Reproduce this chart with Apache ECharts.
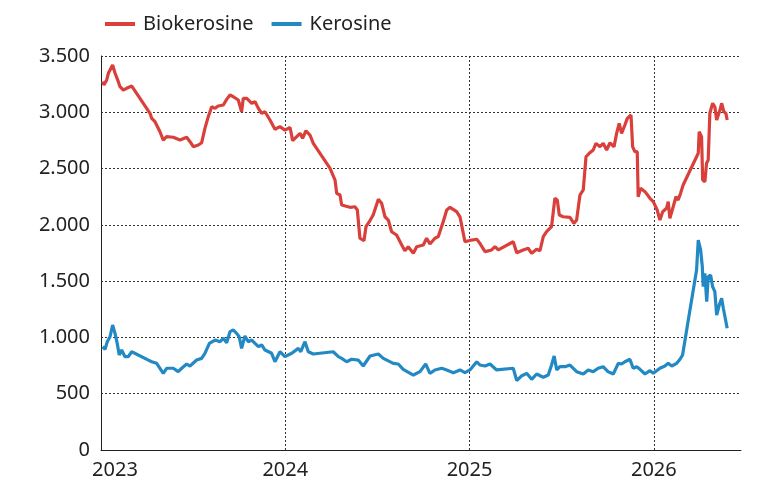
<!DOCTYPE html>
<html>
<head>
<meta charset="utf-8">
<script src="https://cdn.jsdelivr.net/npm/echarts@6/dist/echarts.min.js"></script>
<style>
html,body{margin:0;padding:0;background:#fff;}
#c{width:761px;height:485px;}
</style>
</head>
<body>
<div id="c"></div>
<script>
// time expressed in decimal years
const bioYear = [2023.009,2023.016,2023.031,2023.040,2023.063,2023.076,2023.094,2023.103,2023.121,2023.139,2023.167,2023.266,2023.275,2023.293,2023.320,2023.338,2023.356,2023.392,2023.429,2023.465,2023.483,2023.501,2023.528,2023.546,2023.564,2023.582,2023.601,2023.619,2023.636,2023.664,2023.682,2023.700,2023.718,2023.745,2023.763,2023.772,2023.791,2023.818,2023.836,2023.854,2023.872,2023.890,2023.917,2023.944,2023.971,2023.998,2024.026,2024.040,2024.080,2024.094,2024.112,2024.134,2024.152,2024.243,2024.270,2024.279,2024.297,2024.306,2024.351,2024.378,2024.391,2024.405,2024.427,2024.438,2024.456,2024.477,2024.505,2024.523,2024.541,2024.559,2024.577,2024.604,2024.632,2024.649,2024.667,2024.695,2024.713,2024.749,2024.767,2024.785,2024.812,2024.830,2024.857,2024.876,2024.894,2024.930,2024.948,2024.975,2025.011,2025.039,2025.056,2025.084,2025.120,2025.138,2025.156,2025.237,2025.256,2025.291,2025.318,2025.337,2025.364,2025.382,2025.400,2025.418,2025.445,2025.463,2025.476,2025.487,2025.508,2025.545,2025.566,2025.581,2025.599,2025.617,2025.632,2025.653,2025.671,2025.686,2025.708,2025.725,2025.744,2025.762,2025.784,2025.798,2025.812,2025.825,2025.843,2025.856,2025.876,2025.885,2025.897,2025.910,2025.915,2025.928,2025.952,2025.979,2025.997,2026.018,2026.033,2026.048,2026.069,2026.078,2026.087,2026.105,2026.120,2026.132,2026.145,2026.159,2026.241,2026.246,2026.259,2026.265,2026.277,2026.286,2026.295,2026.304,2026.319,2026.331,2026.341,2026.359,2026.368,2026.380,2026.391,2026.398];
const bioValue = [3272,3242,3287,3346,3420,3349,3272,3227,3198,3213,3233,2991,2946,2916,2827,2753,2783,2778,2753,2778,2739,2694,2709,2729,2857,2961,3049,3035,3056,3065,3115,3154,3138,3109,3005,3124,3124,3080,3094,3035,2991,3005,2931,2849,2872,2842,2865,2748,2813,2769,2836,2798,2724,2502,2398,2280,2265,2176,2156,2161,2132,1881,1859,1984,2028,2088,2227,2191,2072,2043,1939,1910,1821,1770,1806,1747,1806,1821,1881,1830,1881,1895,2028,2132,2156,2117,2072,1850,1865,1872,1836,1762,1777,1806,1777,1850,1753,1777,1792,1747,1783,1770,1895,1939,1984,2236,2221,2088,2072,2067,2013,2043,2265,2310,2605,2641,2665,2724,2694,2724,2665,2729,2694,2813,2902,2813,2887,2946,2976,2694,2650,2650,2250,2325,2295,2236,2206,2132,2043,2117,2147,2206,2058,2161,2250,2221,2280,2354,2636,2827,2783,2398,2383,2547,2576,2991,3080,3049,2931,3020,3080,3005,2991,2931];
const keroYear = [2023.009,2023.022,2023.034,2023.049,2023.063,2023.076,2023.088,2023.099,2023.112,2023.121,2023.130,2023.148,2023.167,2023.257,2023.275,2023.302,2023.338,2023.356,2023.392,2023.419,2023.438,2023.465,2023.483,2023.519,2023.546,2023.564,2023.588,2023.619,2023.646,2023.664,2023.682,2023.700,2023.718,2023.736,2023.750,2023.763,2023.781,2023.799,2023.818,2023.836,2023.854,2023.872,2023.890,2023.926,2023.944,2023.971,2023.998,2024.035,2024.071,2024.084,2024.107,2024.125,2024.152,2024.260,2024.288,2024.306,2024.333,2024.360,2024.396,2024.423,2024.460,2024.505,2024.532,2024.586,2024.613,2024.640,2024.695,2024.731,2024.762,2024.785,2024.812,2024.849,2024.876,2024.912,2024.948,2024.975,2025.002,2025.039,2025.056,2025.084,2025.111,2025.147,2025.237,2025.256,2025.281,2025.310,2025.337,2025.364,2025.400,2025.427,2025.445,2025.459,2025.473,2025.490,2025.518,2025.545,2025.581,2025.617,2025.644,2025.671,2025.698,2025.725,2025.751,2025.780,2025.807,2025.825,2025.843,2025.870,2025.888,2025.907,2025.925,2025.952,2025.979,2025.997,2026.033,2026.060,2026.078,2026.097,2026.124,2026.142,2026.156,2026.187,2026.214,2026.232,2026.241,2026.254,2026.263,2026.268,2026.277,2026.287,2026.295,2026.308,2026.319,2026.331,2026.341,2026.355,2026.368,2026.377,2026.398];
const keroValue = [918,894,962,1006,1110,1036,947,844,888,894,829,829,873,799,784,770,681,726,726,696,726,764,746,799,814,859,947,977,962,992,953,1051,1066,1036,1006,903,1013,962,977,947,918,933,888,859,784,873,829,859,903,873,962,873,853,873,829,814,784,806,799,746,835,853,814,770,764,717,666,696,764,681,711,726,711,687,711,687,711,784,755,746,764,711,726,616,657,681,628,675,646,666,755,835,711,740,740,755,696,675,711,696,726,740,696,675,770,764,784,806,726,740,717,675,705,681,726,746,770,746,770,806,844,1155,1421,1599,1865,1777,1628,1451,1570,1317,1539,1555,1451,1406,1199,1288,1347,1259,1081];
const seriesNames = ['Biokerosine','Kerosine'];
const yearTicks = [2023,2024,2025,2026];

const zip = (a,b) => a.map((t,i) => [t,b[i]]);
const fmtY = v => v >= 1000 ? Math.floor(v/1000) + '.' + String(v % 1000).padStart(3,'0') : String(v);
const FONT = '"Noto Sans", sans-serif';
const chart = echarts.init(document.getElementById('c'), null, {renderer:'canvas'});
chart.setOption({
  animation:false,
  backgroundColor:'#fff',
  textStyle:{fontFamily:FONT},
  legend:{
    left:100, top:9,
    itemWidth:30, itemHeight:4, itemGap:18,
    icon:'rect',
    textStyle:{fontFamily:FONT, fontSize:20, color:'#222', padding:[0,0,0,3]},
    data:seriesNames
  },
  grid:{left:101, right:20, top:56, bottom:35, containLabel:false},
  xAxis:{
    type:'value', min:2023, max:2026.473, interval:1,
    axisLine:{show:true, onZero:false, lineStyle:{color:'#222', width:1}},
    axisTick:{show:false},
    axisLabel:{
      fontFamily:FONT, fontSize:20, color:'#222', margin:10, showMaxLabel:false,
      formatter: v => {
        const y = Math.round(v);
        if (!yearTicks.includes(y) || Math.abs(v-y) > 1e-6) return '';
        return y === yearTicks[0] ? '{f|' + y + '}' : String(y);
      },
      rich:{f:{fontFamily:FONT, fontSize:20, color:'#222', padding:[0,0,0,28]}}
    },
    splitLine:{show:true, showMinLine:false, showMaxLine:false, lineStyle:{color:'#333', type:[2,2], width:1}}
  },
  yAxis:{
    type:'value', min:0, max:3500, interval:500,
    axisLine:{show:true, lineStyle:{color:'#222', width:1}},
    axisTick:{show:false},
    axisLabel:{fontFamily:FONT, fontSize:20, color:'#222', margin:11, formatter:fmtY},
    splitLine:{show:true, showMinLine:false, lineStyle:{color:'#333', type:[2,2], width:1}}
  },
  series:[
    {name:seriesNames[0], type:'line', data:zip(bioYear,bioValue), showSymbol:false, symbol:'none',
     lineStyle:{color:'#d9403b', width:3.2}, itemStyle:{color:'#d9403b'}},
    {name:seriesNames[1], type:'line', data:zip(keroYear,keroValue), showSymbol:false, symbol:'none',
     lineStyle:{color:'#2389c4', width:3.2}, itemStyle:{color:'#2389c4'}}
  ]
});
</script>
</body>
</html>
